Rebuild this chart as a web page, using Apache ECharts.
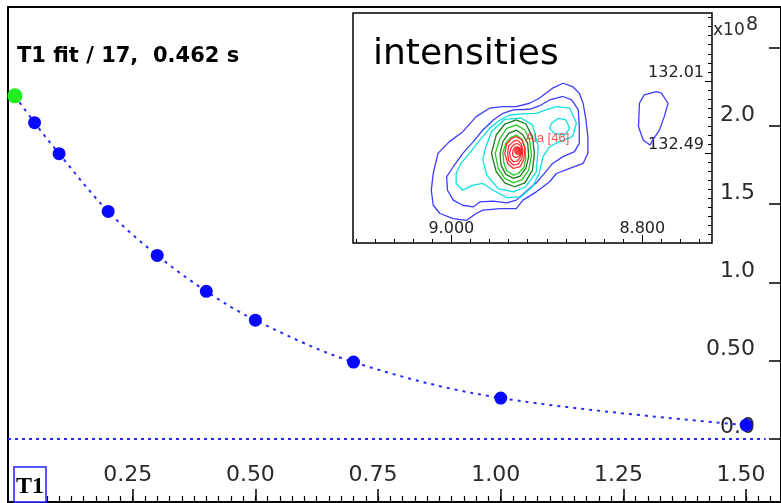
<!DOCTYPE html>
<html>
<head>
<meta charset="utf-8">
<script src="https://cdn.jsdelivr.net/npm/echarts@6/dist/echarts.min.js"></script>
<style>
html, body { margin:0; padding:0; background:#fff; }
#main { width:781px; height:503px; }
</style>
</head>
<body>
<div id="main"></div>
<script>
// T1 relaxation: delay (s) vs intensity (x1e8)
var fitTimes = [0.01, 0.05, 0.1, 0.2, 0.3, 0.4, 0.5, 0.7, 1.0, 1.5];
var fitIntensities = [2.193, 2.021, 1.823, 1.453, 1.172, 0.942, 0.757, 0.489, 0.259, 0.086];

var xTickValues = [0.25, 0.5, 0.75, 1.0, 1.25, 1.5];
var yTickValues = [0, 0.5, 1, 1.5, 2];
var yTickTexts = ['0.0', '0.50', '1.0', '1.5', '2.0'];

// inset spectrum (1H ppm, 13C ppm)
var insetXTicks = [8.8, 9.0];
var insetYTicks = [132.01, 132.49];
var alaPeak = [8.930, 132.477];
var alaLabel = 'Ala [46]';

var contourBlue1 = [[8.883,132.026],[8.873,132.048],[8.866,132.092],[8.862,132.159],[8.859,132.270],[8.857,132.381],[8.857,132.492],[8.862,132.559],[8.876,132.592],[8.890,132.626],[8.897,132.681],[8.911,132.748],[8.925,132.803],[8.932,132.859],[8.949,132.859],[8.967,132.870],[8.974,132.892],[8.984,132.937],[8.998,132.926],[9.012,132.892],[9.019,132.837],[9.021,132.737],[9.019,132.626],[9.014,132.492],[9.002,132.414],[8.988,132.348],[8.974,132.248],[8.960,132.192],[8.946,132.181],[8.932,132.181],[8.918,132.159],[8.908,132.126],[8.894,132.059]];
var contourBlue2 = [[8.883,132.114],[8.874,132.137],[8.867,132.203],[8.866,132.314],[8.866,132.426],[8.871,132.481],[8.883,132.514],[8.894,132.559],[8.901,132.614],[8.911,132.688],[8.922,132.748],[8.932,132.803],[8.942,132.821],[8.956,132.810],[8.970,132.814],[8.977,132.848],[8.988,132.837],[8.998,132.803],[9.004,132.737],[9.005,132.648],[8.998,132.581],[8.988,132.492],[8.977,132.414],[8.967,132.337],[8.956,132.270],[8.946,132.226],[8.935,132.203],[8.918,132.199],[8.908,132.177],[8.897,132.137]];
var contourBlueSide = [[8.803,132.159],[8.798,132.103],[8.785,132.081],[8.780,132.092],[8.773,132.159],[8.777,132.248],[8.782,132.337],[8.789,132.403],[8.792,132.437],[8.799,132.403],[8.804,132.315]];
var contourCyan1 = [[8.890,132.181],[8.876,132.192],[8.869,132.292],[8.873,132.381],[8.887,132.414],[8.897,132.448],[8.904,132.514],[8.908,132.626],[8.915,132.714],[8.927,132.781],[8.942,132.786],[8.956,132.737],[8.967,132.692],[8.977,132.703],[8.988,132.737],[8.995,132.692],[8.995,132.626],[8.990,132.559],[8.981,132.492],[8.970,132.403],[8.960,132.326],[8.949,132.270],[8.939,132.237],[8.925,132.230],[8.911,132.226],[8.901,132.203]];
var contourCyan2 = [[8.965,132.470],[8.958,132.348],[8.944,132.266],[8.927,132.257],[8.915,132.303],[8.909,132.448],[8.911,132.614],[8.922,132.714],[8.935,132.748],[8.951,132.726],[8.963,132.637],[8.967,132.537]];
var contourCyanSide = [[8.895,132.292],[8.888,132.259],[8.880,132.270],[8.876,132.326],[8.881,132.370],[8.892,132.359],[8.897,132.326]];
var contourGreen1 = [[8.932,132.270],[8.922,132.297],[8.915,132.381],[8.913,132.492],[8.915,132.603],[8.923,132.688],[8.934,132.714],[8.944,132.688],[8.953,132.614],[8.958,132.492],[8.953,132.370],[8.944,132.297]];
var contourGreen2 = [[8.932,132.303],[8.923,132.337],[8.918,132.403],[8.916,132.503],[8.919,132.603],[8.926,132.666],[8.935,132.688],[8.944,132.659],[8.951,132.592],[8.954,132.492],[8.949,132.392],[8.942,132.326]];
var contourGreen3 = [[8.932,132.337],[8.925,132.370],[8.920,132.426],[8.919,132.514],[8.922,132.592],[8.928,132.643],[8.935,132.659],[8.943,132.630],[8.948,132.570],[8.949,132.492],[8.946,132.414],[8.940,132.359]];
var contourGreen4 = [[8.932,132.370],[8.926,132.399],[8.923,132.448],[8.922,132.526],[8.924,132.586],[8.930,132.626],[8.935,132.637],[8.942,132.608],[8.945,132.554],[8.946,132.488],[8.943,132.426],[8.938,132.388]];
var contourRed1 = [[8.932,132.381],[8.926,132.403],[8.923,132.459],[8.924,132.532],[8.928,132.581],[8.935,132.592],[8.941,132.559],[8.944,132.492],[8.942,132.430],[8.937,132.392]];
var contourRed2 = [[8.931,132.403],[8.927,132.426],[8.925,132.470],[8.926,132.526],[8.930,132.563],[8.935,132.570],[8.940,132.541],[8.941,132.492],[8.940,132.443],[8.935,132.414]];
var contourRed3 = [[8.931,132.426],[8.927,132.443],[8.926,132.481],[8.928,132.519],[8.931,132.543],[8.935,132.548],[8.938,132.526],[8.939,132.488],[8.937,132.452],[8.934,132.432]];
var contourRed4 = [[8.930,132.448],[8.928,132.461],[8.927,132.488],[8.929,132.510],[8.932,132.521],[8.935,132.514],[8.936,132.492],[8.935,132.466],[8.933,132.450]];

// axis ranges (main plot fills the whole canvas)
var X_MIN = -0.0041, X_MAX = 1.5711;
var Y_MIN = -0.4064, Y_MAX = 2.7616;
var IX_MIN = 8.727, IX_MAX = 9.103;
var IY_MIN = 131.559, IY_MAX = 133.088;
var ZERO_LINE_END = 1.54;

var BLUE = '#3c3cff', CYAN = '#10e0e0', DKGREEN = '#1b7a1b', GREEN = '#20cc20', RED = '#ff3030';

function stepTicks(from, to, step) {
    var out = [];
    for (var v = from; v <= to + 1e-9; v += step) {
        out.push(Math.round(v * 1000) / 1000);
    }
    return out;
}
var xMinorTicks = stepTicks(0.025, 1.55, 0.025);
var insetXMinor = stepTicks(8.74, 9.10, 0.02);
var insetYMinor = stepTicks(131.59, 133.03, 0.06);

var chart = echarts.init(document.getElementById('main'));

var fitData = [];
for (var i = 0; i < fitTimes.length; i++) {
    if (i === 0) {
        fitData.push({value: [fitTimes[i], fitIntensities[i]], symbolSize: 15, itemStyle: {color: '#22ee22'}});
    } else {
        fitData.push([fitTimes[i], fitIntensities[i]]);
    }
}

var contours = [
    [contourBlue1, BLUE], [contourBlue2, BLUE], [contourBlueSide, BLUE],
    [contourCyan1, CYAN], [contourCyan2, CYAN], [contourCyanSide, CYAN],
    [contourGreen1, DKGREEN], [contourGreen2, GREEN], [contourGreen3, DKGREEN], [contourGreen4, GREEN],
    [contourRed1, RED], [contourRed2, RED], [contourRed3, RED], [contourRed4, RED]
];

var series = [{
    type: 'line',
    xAxisIndex: 0,
    yAxisIndex: 0,
    data: fitData,
    smooth: 0.35,
    symbol: 'circle',
    symbolSize: 13,
    itemStyle: {color: '#0808ff'},
    lineStyle: {color: '#2a2aff', width: 2, type: [3, 5]},
    z: 3,
    markLine: {
        silent: true,
        symbol: ['none', 'none'],
        label: {show: false},
        lineStyle: {color: '#2a2aff', width: 2, type: [3, 4]},
        data: [[{coord: [X_MIN, 0]}, {coord: [ZERO_LINE_END, 0]}]]
    }
}];

contours.forEach(function(c){
    series.push({
        type: 'line',
        xAxisIndex: 2,
        yAxisIndex: 1,
        data: c[0].concat([c[0][0]]),
        showSymbol: false,
        symbol: 'none',
        silent: true,
        lineStyle: {color: c[1], width: 1.3},
        z: 3
    });
});

series.push({
    type: 'scatter',
    xAxisIndex: 2,
    yAxisIndex: 1,
    data: [alaPeak],
    symbolSize: 8,
    itemStyle: {color: '#ff1010'},
    z: 4,
    label: {
        show: true,
        formatter: alaLabel,
        position: 'right',
        distance: 3,
        offset: [0, -13],
        color: '#ff2a2a',
        fontFamily: 'Liberation Sans',
        fontSize: 13
    }
});

var labelFont = 'DejaVu Sans';

chart.setOption({
    animation: false,
    backgroundColor: '#fff',
    title: {
        text: 'T1 fit / 17,  0.462 s',
        left: 17,
        top: 46,
        padding: 0,
        textStyle: {fontFamily: 'DejaVu Sans', fontWeight: 'bold', fontSize: 21, color: '#000'}
    },
    grid: [
        {left: 8, top: 7, right: -2, bottom: 1, show: true, borderColor: '#000', borderWidth: 2, backgroundColor: 'transparent'},
        {left: 353, top: 13, width: 359, height: 230, show: true, borderColor: '#000', borderWidth: 1.5, backgroundColor: '#fff'}
    ],
    xAxis: [
        {
            gridIndex: 0, type: 'value', min: X_MIN, max: X_MAX, position: 'bottom',
            axisLine: {onZero: false, lineStyle: {color: '#000', width: 2}},
            axisTick: {inside: true, length: 13, customValues: xTickValues, lineStyle: {color: '#000', width: 1.5}},
            axisLabel: {
                inside: true, customValues: xTickValues, margin: 16,
                formatter: function(v){ return v.toFixed(2); },
                color: '#2a2a2a', fontFamily: labelFont, fontSize: 22, padding: [0, 10, 0, 0]
            },
            splitLine: {show: false}
        },
        {
            gridIndex: 0, type: 'value', min: X_MIN, max: X_MAX, position: 'bottom',
            axisLine: {show: false, onZero: false},
            axisTick: {inside: true, length: 6, customValues: xMinorTicks, lineStyle: {color: '#000', width: 1.2}},
            axisLabel: {show: false},
            splitLine: {show: false}
        },
        {
            gridIndex: 1, type: 'value', min: IX_MIN, max: IX_MAX, inverse: true, position: 'bottom',
            axisLine: {show: false, onZero: false},
            axisTick: {inside: true, length: 8, customValues: insetXTicks, lineStyle: {color: '#000'}},
            axisLabel: {
                inside: true, customValues: insetXTicks, margin: 6,
                formatter: function(v){ return v.toFixed(3); },
                color: '#222', fontFamily: labelFont, fontSize: 16
            },
            splitLine: {show: false}
        },
        {
            gridIndex: 1, type: 'value', min: IX_MIN, max: IX_MAX, inverse: true, position: 'bottom',
            axisLine: {show: false, onZero: false},
            axisTick: {inside: true, length: 4, customValues: insetXMinor, lineStyle: {color: '#000'}},
            axisLabel: {show: false},
            splitLine: {show: false}
        }
    ],
    yAxis: [
        {
            gridIndex: 0, type: 'value', min: Y_MIN, max: Y_MAX, position: 'right',
            axisLine: {show: false, onZero: false},
            axisTick: {show: true, inside: true, length: 12, customValues: yTickValues.concat([2.5]), lineStyle: {color: '#000', width: 1.5}},
            axisLabel: {
                inside: true, customValues: yTickValues, margin: 26, verticalAlign: 'bottom',
                formatter: function(v){
                    for (var k = 0; k < yTickValues.length; k++) {
                        if (Math.abs(yTickValues[k] - v) < 1e-9) return yTickTexts[k];
                    }
                    return '';
                },
                color: '#2a2a2a', fontFamily: labelFont, fontSize: 22
            },
            splitLine: {show: false}
        },
        {
            gridIndex: 1, type: 'value', min: IY_MIN, max: IY_MAX, inverse: true, position: 'right',
            axisLine: {show: false, onZero: false},
            axisTick: {show: true, inside: true, length: 7, customValues: insetYTicks, lineStyle: {color: '#000'}},
            axisLabel: {
                inside: true, customValues: insetYTicks, margin: 8, verticalAlign: 'bottom',
                formatter: function(v){ return v.toFixed(2); },
                color: '#222', fontFamily: labelFont, fontSize: 16
            },
            splitLine: {show: false}
        },
        {
            gridIndex: 1, type: 'value', min: IY_MIN, max: IY_MAX, inverse: true, position: 'right',
            axisLine: {show: false, onZero: false},
            axisTick: {show: true, inside: true, length: 4, customValues: insetYMinor, lineStyle: {color: '#000'}},
            axisLabel: {show: false},
            splitLine: {show: false}
        }
    ],
    graphic: [
        {type: 'text', x: 373, y: 55, z: 10, style: {text: 'intensities', font: '36px "DejaVu Sans"', fill: '#000', verticalAlign: 'middle'}},
        {type: 'text', x: 713, y: 31, z: 10, style: {text: 'x10', font: '17px "DejaVu Sans"', fill: '#2a2a2a', verticalAlign: 'middle'}},
        {type: 'text', x: 746, y: 25, z: 10, style: {text: '8', font: '19px "DejaVu Sans"', fill: '#2a2a2a', verticalAlign: 'middle'}},
        {type: 'rect', z: 100, shape: {x: 14, y: 467, width: 32, height: 35}, style: {fill: '#fff', stroke: '#1f1fff', lineWidth: 1.5}},
        {type: 'text', z: 101, x: 30, y: 487, style: {text: 'T1', font: 'bold 24px "Liberation Serif"', fill: '#000', align: 'center', verticalAlign: 'middle'}}
    ],
    series: series
});
</script>
</body>
</html>
